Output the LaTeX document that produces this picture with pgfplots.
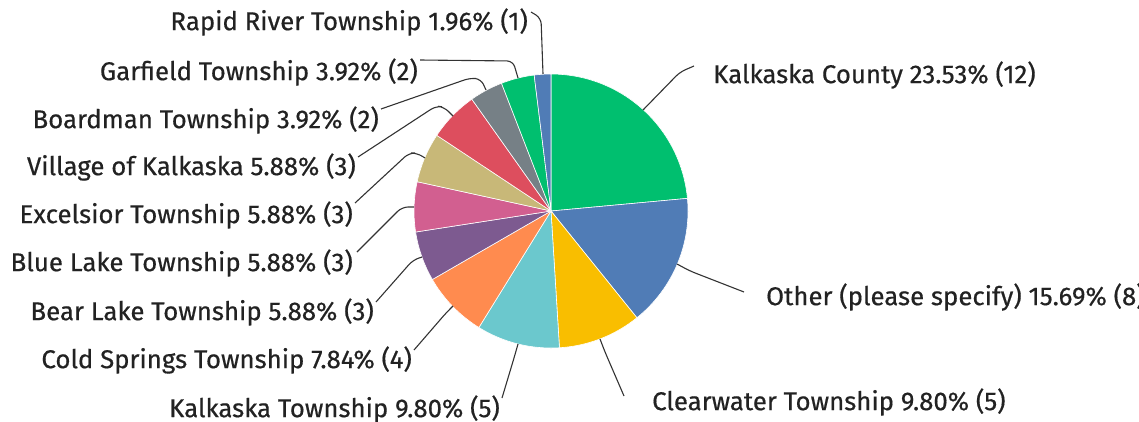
\documentclass[border=0pt]{standalone}
\usepackage{fontspec}
\setmainfont{Fira Sans}
\newfontfamily\labfont{Fira Sans}[FakeBold=0.5]
\usepackage{pgfplots}
\pgfplotsset{compat=1.18}
\definecolor{cKC}{HTML}{00BF6F}
\definecolor{cOther}{HTML}{507CB6}
\definecolor{cClear}{HTML}{F9BE00}
\definecolor{cKT}{HTML}{6BC8CD}
\definecolor{cCold}{HTML}{FF8B4F}
\definecolor{cBear}{HTML}{7D5A90}
\definecolor{cBlue}{HTML}{D25F90}
\definecolor{cExc}{HTML}{C8B878}
\definecolor{cVil}{HTML}{DD4E5E}
\definecolor{cBoard}{HTML}{768086}
\definecolor{cGar}{HTML}{00BF6F}
\definecolor{cRapid}{HTML}{507CB6}
\definecolor{txt}{HTML}{222222}
\definecolor{lead}{HTML}{333333}
% total responses: 51
\newcommand{\slice}[3]{%
  \pgfmathsetmacro{\sliceA}{90-(#2+#3)/51*360}%
  \pgfmathsetmacro{\sliceB}{90-(#2)/51*360}%
  \addplot[fill=#1, draw=white, line width=0.6pt, domain=\sliceA:\sliceB, samples=60]
    ({551+137*cos(x)},{211-137*sin(x)}) -- (axis cs:551,211) -- cycle;
}
\begin{document}
\begin{tikzpicture}
\path[use as bounding box] (0,0) rectangle (1139pt,421pt);
\begin{axis}[at={(0,0)}, anchor=south west, width=1139pt, height=421pt,
  scale only axis, xmin=0, xmax=1139, ymin=0, ymax=421, y dir=reverse,
  hide axis, clip=false]
% color, responses before, responses
\slice{cKC}{0}{12}
\slice{cOther}{12}{8}
\slice{cClear}{20}{5}
\slice{cKT}{25}{5}
\slice{cCold}{30}{4}
\slice{cBear}{34}{3}
\slice{cBlue}{37}{3}
\slice{cExc}{40}{3}
\slice{cVil}{43}{3}
\slice{cBoard}{46}{2}
\slice{cGar}{48}{2}
\slice{cRapid}{50}{1}

\begin{scope}[draw=lead, line width=1.1pt, rounded corners=6pt]
\draw (axis cs:543,74) -- (axis cs:541,18) -- (axis cs:531,12);
\draw (axis cs:518,78) -- (axis cs:513,61) -- (axis cs:420,60);
\draw (axis cs:486,90) -- (axis cs:481,79) -- (axis cs:470,78) -- (axis cs:381,109);
\draw (axis cs:453,116) -- (axis cs:444,107) -- (axis cs:436,106) -- (axis cs:358,157);
\draw (axis cs:425,158) -- (axis cs:417,153) -- (axis cs:409,153) -- (axis cs:355,203);
\draw (axis cs:414,207) -- (axis cs:402,207) -- (axis cs:357,252);
\draw (axis cs:422,257) -- (axis cs:413,260) -- (axis cs:376,302);
\draw (axis cs:453,306) -- (axis cs:446,313) -- (axis cs:414,350);
\draw (axis cs:518,344) -- (axis cs:514,358) -- (axis cs:502,398);
\draw (axis cs:643,110) -- (axis cs:680,72) -- (axis cs:694,66);
\draw (axis cs:677,264) -- (axis cs:690,271) -- (axis cs:744,292);
\draw (axis cs:600,339) -- (axis cs:605,352) -- (axis cs:624,396);
\end{scope}

\begin{scope}[every node/.style={text=txt, inner sep=0pt, font=\labfont\fontsize{25.8}{28}\selectfont}]
\node[anchor=east] at (axis cs:528,22) {Rapid River Township 1.96\% (1)};
\node[anchor=east] at (axis cs:418,72) {Garfield Township 3.92\% (2)};
\node[anchor=east] at (axis cs:379,120) {Boardman Township 3.92\% (2)};
\node[anchor=east] at (axis cs:356,167) {Village of Kalkaska 5.88\% (3)};
\node[anchor=east] at (axis cs:353,215) {Excelsior Township 5.88\% (3)};
\node[anchor=east] at (axis cs:353,263) {Blue Lake Township 5.88\% (3)};
\node[anchor=east] at (axis cs:374,312) {Bear Lake Township 5.88\% (3)};
\node[anchor=east] at (axis cs:412,360) {Cold Springs Township 7.84\% (4)};
\node[anchor=east] at (axis cs:500,409) {Kalkaska Township 9.80\% (5)};
\node[anchor=west] at (axis cs:713,75) {Kalkaska County 23.53\% (12)};
\node[anchor=west] at (axis cs:766,297) {Other (please specify) 15.69\% (8)};
\node[anchor=west] at (axis cs:652,402) {Clearwater Township 9.80\% (5)};
\end{scope}
\end{axis}
\end{tikzpicture}
\end{document}
